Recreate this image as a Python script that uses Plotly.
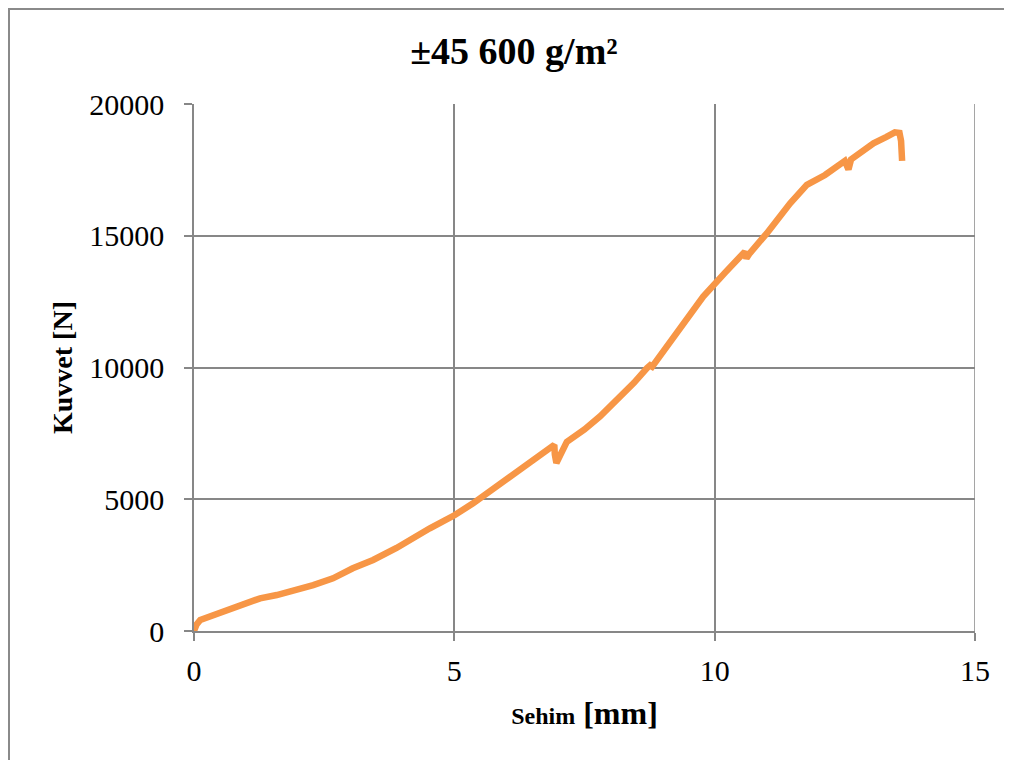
import plotly.graph_objects as go

# Deflection (mm) and force (N)
sehim = [0.0, 0.05, 0.12, 0.37, 0.69, 1.01, 1.27, 1.59, 1.97, 2.29, 2.67, 3.05, 3.44,
         3.89, 4.53, 5.01, 5.36, 5.68, 5.90, 6.23, 6.60, 6.92, 6.93, 6.96, 7.16,
         7.50, 7.80, 8.12, 8.45, 8.70, 8.76, 8.80, 9.30, 9.78, 10.20, 10.58, 10.61, 10.66,
         11.00, 11.45, 11.77, 12.12, 12.50, 12.57, 12.62, 12.69, 13.05, 13.30, 13.46,
         13.55, 13.58, 13.60]
kuvvet = [0, 250, 418, 607, 797, 1050, 1240, 1366, 1556, 1745, 2000, 2380, 2694,
          3150, 3897, 4402, 4846, 5300, 5620, 6130, 6640, 7060, 6700, 6375, 7180,
          7650, 8150, 8750, 9420, 9980, 10080, 10030, 11420, 12690, 13600, 14395, 14140, 14300,
          15090, 16230, 16930, 17305, 17840, 17520, 17900, 18000, 18510, 18750, 18925,
          18900, 18600, 17840]

title_text = "±45 600 g/m²"
x_title = "<span style='font-size:24px'>Sehim</span> [mm]"
y_title = "Kuvvet [N]"
x_ticks = [0, 5, 10, 15]
y_ticks = [0, 5000, 10000, 15000, 20000]

grid = "#878787"
font_family = "Liberation Serif, Times New Roman, serif"

# the page body adds an 8 px offset; plot area spans page x 194-975, y 104-631
off = 8
L, R, T, B = 194 - off, 1012 - (975 - off), 104 - off, 760 - (631 - off)
pw, ph = 1012 - L - R, 760 - T - B

fig = go.Figure()
fig.add_trace(go.Scatter(
    x=sehim, y=kuvvet, mode="lines",
    line=dict(color="#F79646", width=6.5),
    showlegend=False, hoverinfo="x+y"))

fig.update_layout(
    width=1012, height=760,
    margin=dict(l=L, r=R, t=T, b=B),
    paper_bgcolor="white", plot_bgcolor="white",
    font=dict(family=font_family, color="black", size=30),
    title=dict(text="<b>" + title_text + "</b>", x=(514 - off) / 1012, xref="container",
               xanchor="center", y=1 - 43 / 760, yanchor="middle",
               font=dict(family=font_family, size=38, color="black")),
    xaxis=dict(range=[0, 15], tickvals=x_ticks, ticktext=[str(v) for v in x_ticks],
               showgrid=True, gridcolor=grid, gridwidth=1.5,
               showline=True, linecolor=grid, linewidth=1.5, mirror=False,
               ticks="outside", ticklen=8, tickcolor=grid, tickwidth=1.5,
               ticklabelstandoff=4, zeroline=False,
               tickfont=dict(family=font_family, size=30),
               title=dict(text="<b>" + x_title + "</b>", standoff=16,
                          font=dict(family=font_family, size=32))),
    yaxis=dict(range=[0, 20000], tickvals=y_ticks, ticktext=[str(v) for v in y_ticks],
               showgrid=True, gridcolor=grid, gridwidth=1.5,
               showline=True, linecolor=grid, linewidth=1.5,
               ticks="outside", ticklen=8, tickcolor=grid, tickwidth=1.5,
               ticklabelstandoff=14, zeroline=False,
               tickfont=dict(family=font_family, size=30),
               title=dict(text="<b>" + y_title + "</b>", standoff=8,
                          font=dict(family=font_family, size=28))),
)

# right grid edge
fig.add_shape(type="line", xref="x", yref="paper", x0=15, x1=15, y0=0, y1=1,
              line=dict(color=grid, width=1.5))

# outer chart border
fig.add_shape(type="rect", xref="paper", yref="paper",
              x0=(9 - off - L) / pw, x1=(1016 - off - L) / pw,
              y0=-(760 - T - ph + 10) / ph, y1=(T + ph - 1) / ph,
              line=dict(color="#8a8a8a", width=2), layer="below")

fig.write_html("out.html")
